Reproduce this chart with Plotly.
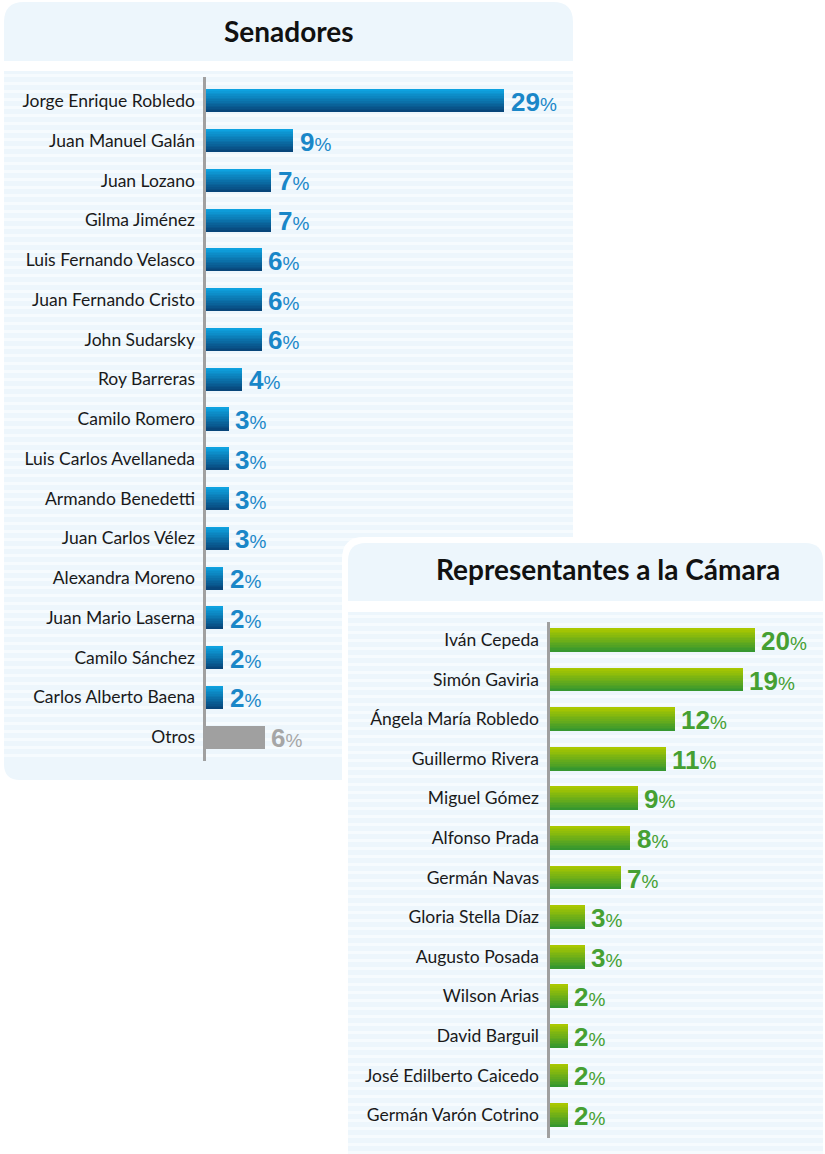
import plotly.graph_objects as go

W, H = 825, 1154

# ---------------- data ----------------
sen_title = "Senadores"
sen_names = ["Jorge Enrique Robledo", "Juan Manuel Galán", "Juan Lozano", "Gilma Jiménez",
             "Luis Fernando Velasco", "Juan Fernando Cristo", "John Sudarsky", "Roy Barreras",
             "Camilo Romero", "Luis Carlos Avellaneda", "Armando Benedetti", "Juan Carlos Vélez",
             "Alexandra Moreno", "Juan Mario Laserna", "Camilo Sánchez", "Carlos Alberto Baena",
             "Otros"]
sen_values = [29.0, 8.5, 6.35, 6.35, 5.4, 5.4, 5.4, 3.55, 2.2, 2.2, 2.2, 2.2,
              1.7, 1.7, 1.7, 1.7, 5.7]
sen_labels = [29, 9, 7, 7, 6, 6, 6, 4, 3, 3, 3, 3, 2, 2, 2, 2, 6]

rep_title = "Representantes a la Cámara"
rep_names = ["Iván Cepeda", "Simón Gaviria", "Ángela María Robledo", "Guillermo Rivera",
             "Miguel Gómez", "Alfonso Prada", "Germán Navas", "Gloria Stella Díaz",
             "Augusto Posada", "Wilson Arias", "David Barguil", "José Edilberto Caicedo",
             "Germán Varón Cotrino"]
rep_values = [19.9, 18.75, 12.15, 11.25, 8.55, 7.8, 6.9, 3.4, 3.4, 1.75, 1.75, 1.75, 1.75]
rep_labels = [20, 19, 12, 11, 9, 8, 7, 3, 3, 2, 2, 2, 2]

# ---------------- styles ----------------
S = 10.28  # px per percentage point
BLUE_TOP, BLUE_BOT = (14, 162, 224), (8, 70, 122)
GREEN_TOP, GREEN_BOT = (170, 200, 0), (54, 151, 47)
GRAY = "#a0a0a0"
BLUE_TXT, GREEN_TXT, GRAY_TXT = "#1a87c8", "#46a032", "#a6a6a6"
PANEL_BG = "#edf6fc"
STRIPE = "#f6fbfe"
LABEL_FONT = "Lato"
NUM_FONT = "Liberation Sans"


def px(x):
    return x / W


def py(y):
    return 1 - y / H


def mix(c0, c1, t):
    return "rgb(%d,%d,%d)" % tuple(round(a + (b - a) * t) for a, b in zip(c0, c1))


def rrect(x0, y0, x1, y1, rtl=0, rtr=0, rbr=0, rbl=0):
    def P(x, y):
        return "%.6f,%.6f" % (px(x), py(y))
    d = "M%s L%s Q%s %s L%s Q%s %s L%s Q%s %s L%s Q%s %s Z" % (
        P(x0 + rtl, y0), P(x1 - rtr, y0), P(x1, y0), P(x1, y0 + rtr),
        P(x1, y1 - rbr), P(x1, y1), P(x1 - rbr, y1),
        P(x0 + rbl, y1), P(x0, y1), P(x0, y1 - rbl),
        P(x0, y0 + rtl), P(x0, y0), P(x0 + rtl, y0))
    return dict(type="path", path=d, xref="paper", yref="paper",
                fillcolor=None, line=dict(width=0), layer="below")


shapes = []


def panel(x0, x1, top, band_bot, stripe_top, bottom, r_top, r_bot, fill_white=False):
    if fill_white:
        s = rrect(x0 - 6, top - 6, W + 10, H + 10, rtl=r_top + 4, rtr=r_top + 4)
        s["fillcolor"] = "white"
        shapes.append(s)
    s = rrect(x0, top, x1, band_bot, rtl=r_top, rtr=r_top)
    s["fillcolor"] = PANEL_BG
    shapes.append(s)
    s = rrect(x0, stripe_top, x1, bottom, rbl=r_bot, rbr=r_bot)
    s["fillcolor"] = PANEL_BG
    shapes.append(s)
    y = stripe_top + 3
    while y + 3 < bottom - r_bot:
        shapes.append(dict(type="rect", xref="paper", yref="paper",
                           x0=px(x0), x1=px(x1), y0=py(y), y1=py(y + 3),
                           fillcolor=STRIPE, line=dict(width=0), layer="below"))
        y += 8


panel(4, 573, 2, 61, 71, 780, 20, 16)
panel(348, 823, 543, 601, 612, H + 20, 18, 0, fill_white=True)

fig = go.Figure()

# ---------------- bars (vertical gradient via overlapping strips) ----------------
N = 14


def add_bars(values, xa, ya, c_top, c_bot, width, gray_last=False):
    idx = list(range(len(values)))
    for k in range(N):
        t = k / (N - 1)
        col = mix(c_top, c_bot, t)
        colors = [col] * len(values)
        if gray_last:
            colors[-1] = GRAY
        fig.add_trace(go.Bar(
            y=idx, x=values, orientation="h", base=0,
            width=width * (1 - k / N), offset=-width / 2 + width * k / N,
            marker=dict(color=colors, line=dict(width=0)),
            xaxis=xa, yaxis=ya, hoverinfo="skip", showlegend=False))


add_bars(sen_values, "x", "y", BLUE_TOP, BLUE_BOT, 0.58, gray_last=True)
add_bars(rep_values, "x2", "y2", GREEN_TOP, GREEN_BOT, 0.60)

annotations = []


def add_labels(values, labels, xr, yr, colors):
    for i, (v, lab) in enumerate(zip(values, labels)):
        annotations.append(dict(
            x=v, y=i, xref=xr, yref=yr, xanchor="left", yanchor="middle",
            xshift=5, yshift=-1, showarrow=False,
            text="<b>%d</b><span style='font-size:19px'>%%</span>" % lab,
            font=dict(family=NUM_FONT, size=26, color=colors[i])))


add_labels(sen_values, sen_labels, "x", "y",
           [BLUE_TXT] * (len(sen_values) - 1) + [GRAY_TXT])
add_labels(rep_values, rep_labels, "x2", "y2", [GREEN_TXT] * len(rep_values))

annotations.append(dict(x=px(289), y=py(31), xref="paper", yref="paper",
                        xanchor="center", yanchor="middle",
                        text="<b>%s</b>" % sen_title, showarrow=False,
                        font=dict(family=LABEL_FONT, size=28, color="#111111")))
annotations.append(dict(x=px(608), y=py(569), xref="paper", yref="paper",
                        xanchor="center", yanchor="middle",
                        text="<b>%s</b>" % rep_title, showarrow=False,
                        font=dict(family=LABEL_FONT, size=28, color="#111111")))

# ---------------- axes ----------------
sen_xmax, rep_xmax = 36, 26
SEN_X0, REP_X0 = 205.5, 549.5
axis_common = dict(showgrid=False, zeroline=False, fixedrange=True)

fig.update_layout(
    width=W, height=H, margin=dict(l=0, r=0, t=0, b=0),
    paper_bgcolor="white", plot_bgcolor="rgba(0,0,0,0)",
    barmode="overlay", bargap=0,
    shapes=shapes, annotations=annotations,
    xaxis=dict(domain=[px(SEN_X0), px(SEN_X0 + sen_xmax * S)], range=[0, sen_xmax],
               showticklabels=False, anchor="y", **axis_common),
    yaxis=dict(domain=[py(761), py(77)], range=[16.6, -0.6], anchor="x",
               tickvals=list(range(len(sen_names))), ticktext=sen_names,
               showline=True, linecolor="#a0a0a0", linewidth=3,
               ticks="", ticklabelstandoff=4,
               tickfont=dict(family=LABEL_FONT, size=17.5, color="#1a1a1a"),
               **axis_common),
    xaxis2=dict(domain=[px(REP_X0), px(REP_X0 + rep_xmax * S)], range=[0, rep_xmax],
                showticklabels=False, anchor="y2", **axis_common),
    yaxis2=dict(domain=[py(1138), py(622)], range=[12.58, -0.455], anchor="x2",
                tickvals=list(range(len(rep_names))), ticktext=rep_names,
                showline=True, linecolor="#a0a0a0", linewidth=3,
                ticks="", ticklabelstandoff=4,
                tickfont=dict(family=LABEL_FONT, size=17.5, color="#1a1a1a"),
                **axis_common),
)

fig.write_html("out.html", config={"displayModeBar": False},
               post_script="document.body.style.margin='0';")
